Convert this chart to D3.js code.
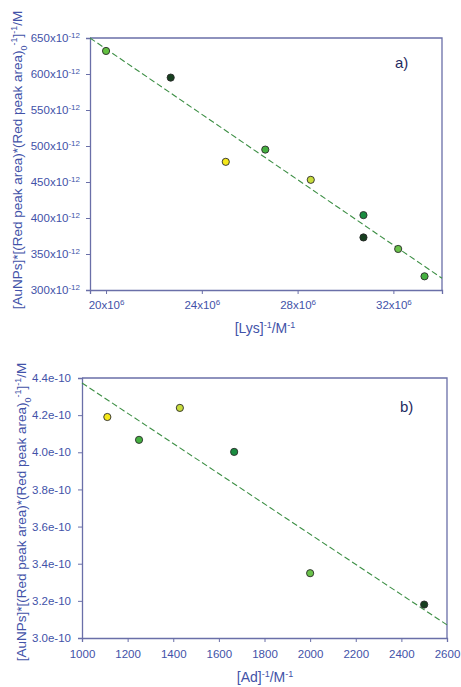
<!DOCTYPE html>
<html>
<head>
<meta charset="utf-8">
<script src="https://cdn.jsdelivr.net/npm/d3@7"></script>
<style>
    body { margin: 0; background: #fff; }
    svg { font-family: "Liberation Sans", Arial, sans-serif; }
</style>
</head>
<body>
<div class="chart-ctn"></div>
<script>
// panel a) : [Lys]^-1 vs y (y in units of 1e-12 M)
const lysX = [20.0e6, 22.7e6, 25.0e6, 26.65e6, 28.55e6, 30.75e6, 30.75e6, 32.2e6, 33.3e6];
const lysY = [632, 595, 478, 495, 453, 404, 373, 357, 319];
const lysColors = ['#62c040', '#173f1f', '#f5e81a', '#45b040', '#c8dc3c', '#1a8c40', '#173f1f', '#6ac24a', '#45b040'];
const lysXTicks = [20e6, 24e6, 28e6, 32e6];
const lysYTicks = [300, 350, 400, 450, 500, 550, 600, 650];
const lysFit = { slope: -22.7e-6, intercept: 1088.8 };

// panel b) : [Ad]^-1 vs y (y in units of 1e-10 M)
const adX = [1111, 1250, 1429, 1667, 2000, 2500];
const adY = [4.19, 4.067, 4.239, 4.002, 3.349, 3.18];
const adColors = ['#f5e81a', '#45b040', '#c8dc3c', '#1a8c40', '#6ac24a', '#173f1f'];
const adXTicks = [1000, 1200, 1400, 1600, 1800, 2000, 2200, 2400, 2600];
const adYTicks = [3.0, 3.2, 3.4, 3.6, 3.8, 4.0, 4.2, 4.4];
const adFit = { slope: -0.000814, intercept: 5.187 };

const W = 461, H = 687;
const axisColor = '#6a6fa8';
const labelColor = '#4252a8';

const svg = d3.select('.chart-ctn')
    .append('svg')
    .attr('width', W)
    .attr('height', H);

function sup(sel, text, size) {
    sel.append('tspan').attr('baseline-shift', 'super').attr('font-size', size).text(text);
}

function yLabel(g, cx, cy) {
    const t = g.append('text')
        .attr('transform', `translate(${cx},${cy}) rotate(-90)`)
        .attr('text-anchor', 'middle')
        .attr('fill', labelColor)
        .attr('font-size', 13.5);
    t.append('tspan').text('[AuNPs]*[(Red peak area)*(Red peak area)');
    t.append('tspan').attr('baseline-shift', 'sub').attr('font-size', 9).text('0');
    sup(t, '-1', 9);
    t.append('tspan').text(']');
    sup(t, '-1', 9);
    t.append('tspan').text('/M');
}

function drawPanel(cfg) {
    const g = svg.append('g');
    const x = d3.scaleLinear().domain(cfg.xDomain).range([cfg.left, cfg.right]);
    const y = d3.scaleLinear().domain(cfg.yDomain).range([cfg.bottom, cfg.top]);

    // frame top/right
    g.append('path')
        .attr('d', `M${cfg.left},${cfg.top}H${cfg.right}V${cfg.bottom}`)
        .attr('fill', 'none')
        .attr('stroke', axisColor)
        .attr('stroke-width', 1.3);

    const xAxis = d3.axisBottom(x).tickValues(cfg.xTicks).tickSizeOuter(0).tickSize(4).tickPadding(cfg.xPad);
    const yAxis = d3.axisLeft(y).tickValues(cfg.yTicks).tickSizeOuter(0).tickSize(4).tickPadding(cfg.yPad);

    const gx = g.append('g')
        .attr('transform', `translate(0,${cfg.bottom})`)
        .call(xAxis);
    const gy = g.append('g')
        .attr('transform', `translate(${cfg.left},0)`)
        .call(yAxis);

    [gx, gy].forEach(a => {
        a.select('.domain').attr('stroke', axisColor).attr('stroke-width', 1.3);
        a.selectAll('.tick line').attr('stroke', axisColor);
        a.selectAll('.tick text')
            .attr('fill', labelColor)
            .attr('font-size', 11.5)
            .attr('font-family', '"Liberation Sans", Arial, sans-serif');
    });
    gx.selectAll('.tick text').each(function(d) { cfg.xFmt(d3.select(this).text(null), d); });
    gy.selectAll('.tick text').each(function(d) { cfg.yFmt(d3.select(this).text(null), d); });

    // fit line
    const xs = cfg.xDomain;
    g.append('path')
        .datum(xs.map(v => [v, cfg.fit.intercept + cfg.fit.slope * v]))
        .attr('fill', 'none')
        .attr('stroke', '#3d8f45')
        .attr('stroke-width', 1.1)
        .attr('stroke-dasharray', '6,3')
        .attr('d', d3.line().x(d => x(d[0])).y(d => y(d[1])));

    // points
    g.selectAll('circle.pt')
        .data(cfg.xs.map((v, i) => [v, cfg.ys[i], cfg.colors[i]]))
        .join('circle')
        .attr('class', 'pt')
        .attr('cx', d => x(d[0]))
        .attr('cy', d => y(d[1]))
        .attr('r', 3.6)
        .attr('fill', d => d[2])
        .attr('stroke', '#2a2a2a')
        .attr('stroke-width', 0.9);

    g.append('text')
        .attr('x', cfg.tagPos[0])
        .attr('y', cfg.tagPos[1])
        .attr('fill', '#1f2a60')
        .attr('font-size', 15)
        .text(cfg.tag);

    const xt = g.append('text')
        .attr('x', cfg.xTitlePos[0])
        .attr('y', cfg.xTitlePos[1])
        .attr('text-anchor', 'middle')
        .attr('fill', labelColor)
        .attr('font-size', 14);
    xt.append('tspan').text(cfg.xTitle);
    sup(xt, '-1', 9);
    xt.append('tspan').text('/M');
    sup(xt, '-1', 9);

    yLabel(g, cfg.yTitlePos[0], cfg.yTitlePos[1]);
}

drawPanel({
    left: 90, right: 442, top: 38, bottom: 290,
    xDomain: [19.33e6, 34.03e6], yDomain: [300, 650],
    xTicks: lysXTicks, yTicks: lysYTicks,
    xs: lysX, ys: lysY, colors: lysColors, fit: lysFit,
    xPad: 7, yPad: 6,
    xFmt: (t, d) => { t.append('tspan').text(d / 1e6 + 'x10'); sup(t, '6', 8); },
    yFmt: (t, d) => { t.append('tspan').text(d + 'x10'); sup(t, '-12', 8); },
    tag: 'a)', tagPos: [395, 68],
    xTitle: '[Lys]', xTitlePos: [265, 333],
    yTitlePos: [22, 160]
});

drawPanel({
    left: 82, right: 447, top: 378, bottom: 638,
    xDomain: [1000, 2600], yDomain: [3.0, 4.4],
    xTicks: adXTicks, yTicks: adYTicks,
    xs: adX, ys: adY, colors: adColors, fit: adFit,
    xPad: 8, yPad: 7,
    xFmt: (t, d) => { t.text(d); },
    yFmt: (t, d) => { t.text(d.toFixed(1) + 'e-10'); },
    tag: 'b)', tagPos: [400, 412],
    xTitle: '[Ad]', xTitlePos: [265, 682],
    yTitlePos: [26, 512]
});
</script>
</body>
</html>
